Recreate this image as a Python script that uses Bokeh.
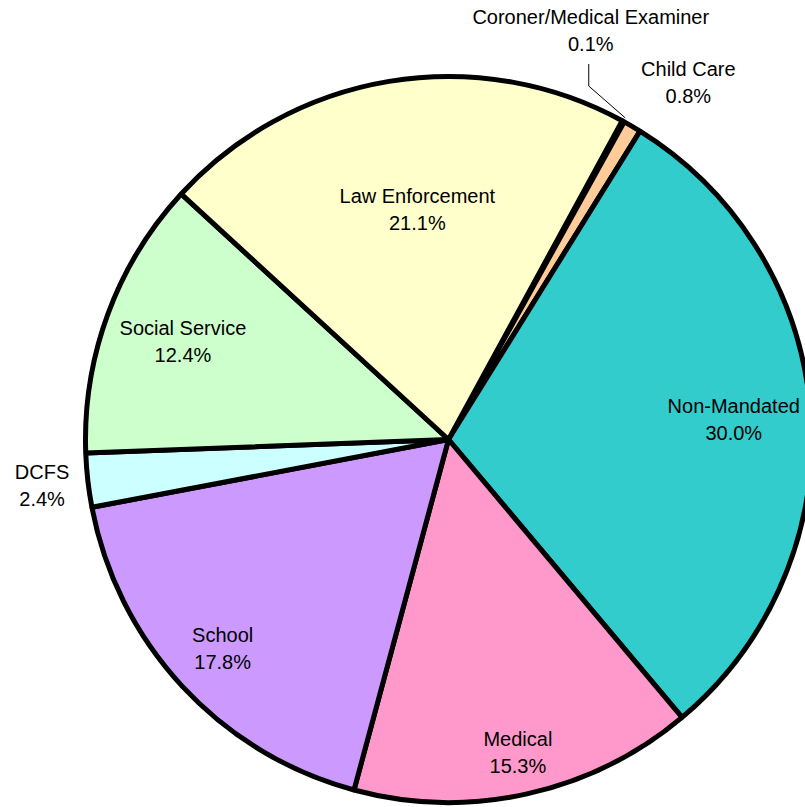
import math
from bokeh.plotting import figure
from bokeh.models import Range1d, ColumnDataSource
from bokeh.core.properties import value
from bokeh.embed import file_html
from bokeh.resources import INLINE

# ---- data ----
categories = ["Coroner/Medical Examiner", "Child Care", "Non-Mandated", "Medical",
              "School", "DCFS", "Social Service", "Law Enforcement"]
percents = [0.1, 0.8, 30.0, 15.3, 17.8, 2.4, 12.4, 21.1]
colors = ["#FF9966", "#FFCC99", "#33CCCC", "#FF99CC", "#CC99FF", "#CCFFFF", "#CCFFCC", "#FFFFCC"]

# ---- layout ----
W, H = 805, 807
CX, CY = 448, 439          # pie centre in pixels
R = 363                    # pie radius in pixels
START = 28.6               # clockwise degrees from 12 o'clock
label_r = [433, 430, 286, 321, 308, 409, 283, 232]
label_nudge = [-9.6, 3.5, 0, 0, 0, 0, 0, 1.7]   # degrees, to keep small labels apart
FONT = "Liberation Sans"
FS = "20px"
LINE_GAP = 13.5

p = figure(width=W, height=H, output_backend="svg", toolbar_location=None,
           x_range=Range1d(-CX, W - CX), y_range=Range1d(CY - H, CY),
           min_border=0, outline_line_color=None, background_fill_color="white",
           border_fill_color="white")
p.axis.visible = False
p.grid.visible = False

total = sum(percents)
starts, ends, mids = [], [], []
cur = START
for v in percents:
    span = 360.0 * v / total
    a, b = cur, cur + span
    starts.append(math.radians(90 - b))
    ends.append(math.radians(90 - a))
    mids.append((a + b) / 2)
    cur = b

src = ColumnDataSource(dict(start=starts, end=ends, color=colors))
p.wedge(x=0, y=0, radius=R, start_angle="start", end_angle="end", direction="anticlock",
        fill_color="color", line_color="black", line_width=5, source=src)

lx, ly, names, pcts = [], [], [], []
for i, cat in enumerate(categories):
    th = math.radians(mids[i] + label_nudge[i])
    x = label_r[i] * math.sin(th)
    y = label_r[i] * math.cos(th)
    lx.append(x)
    ly.append(y)
    names.append(cat)
    pcts.append(f"{percents[i]:.1f}%")

p.text(x=lx, y=[v + LINE_GAP for v in ly], text=names, text_align="center",
       text_baseline="middle", text_font=value(FONT), text_font_size=FS, text_color="black")
p.text(x=lx, y=[v - LINE_GAP for v in ly], text=pcts, text_align="center",
       text_baseline="middle", text_font=value(FONT), text_font_size=FS, text_color="black")

# leader line for the Coroner slice
th = math.radians(mids[0])
ex, ey = (R + 4) * math.sin(th), (R + 4) * math.cos(th)
bx = lx[0] - 2
p.line(x=[bx, bx, ex], y=[ly[0] - LINE_GAP - 20, ly[0] - LINE_GAP - 42, ey],
       line_color="black", line_width=1)

open("out.html", "w").write(file_html(p, INLINE))
